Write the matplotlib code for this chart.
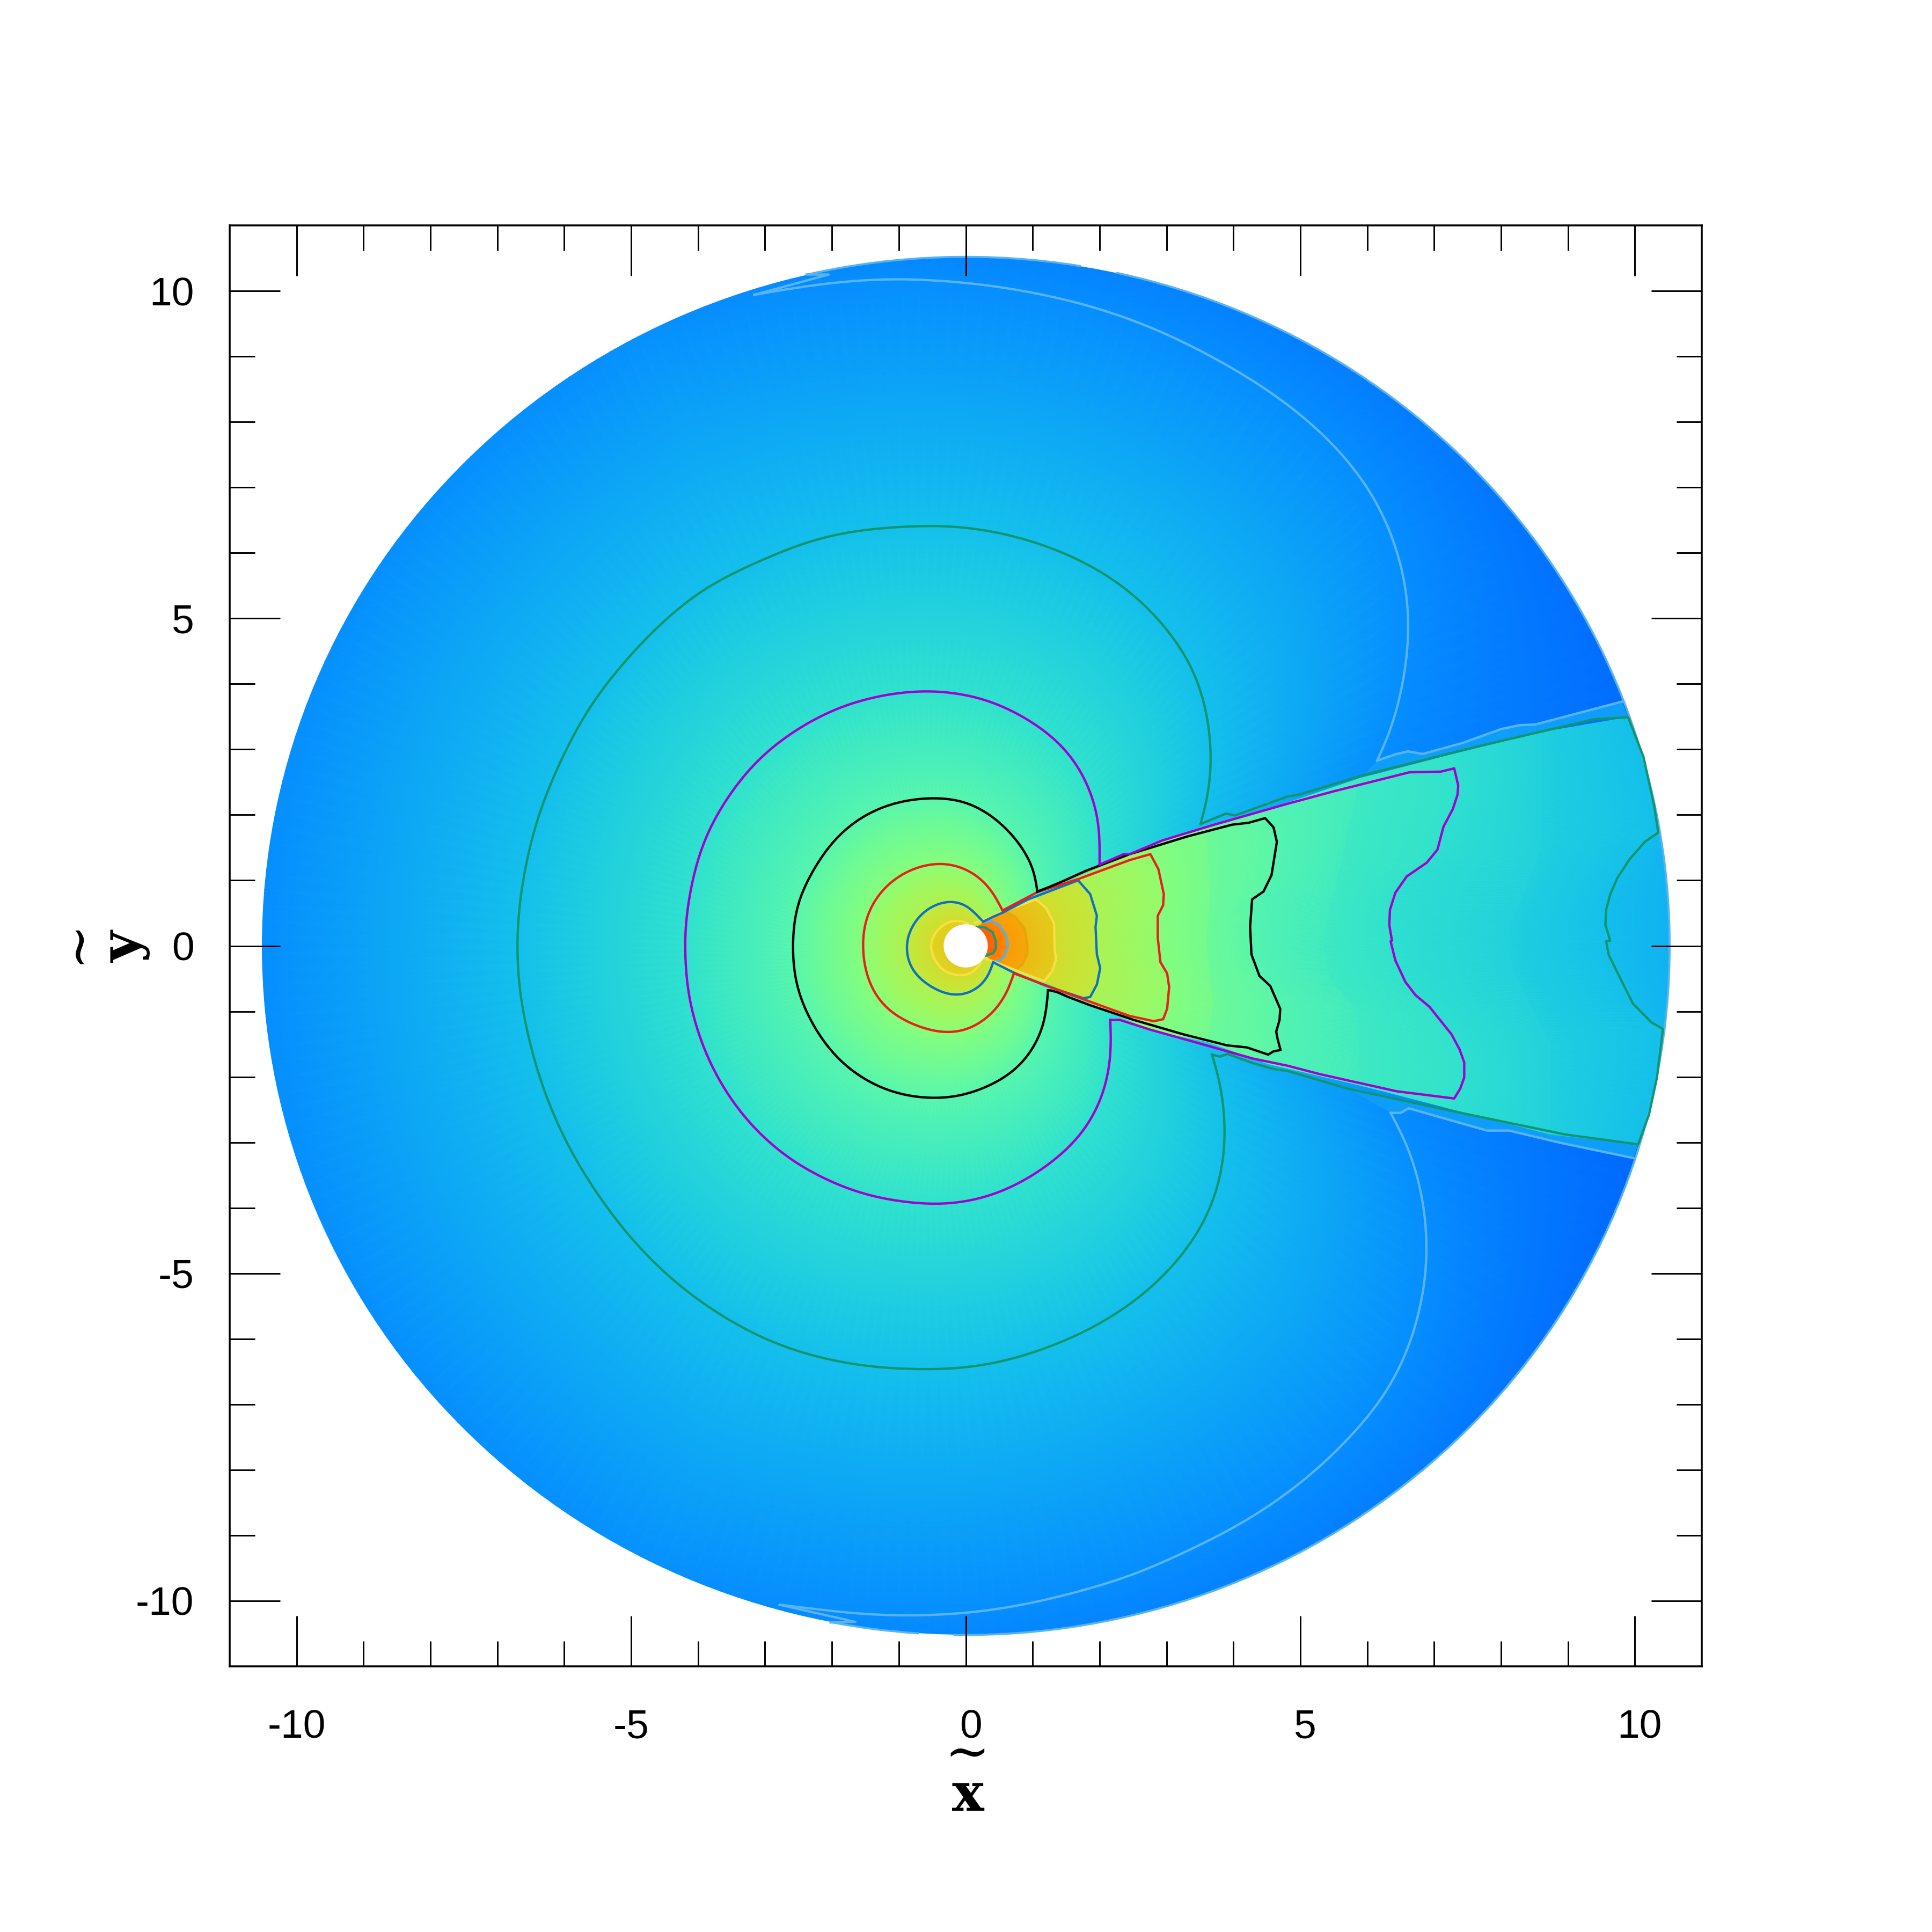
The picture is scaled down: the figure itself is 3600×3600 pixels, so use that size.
import numpy as np
import matplotlib
matplotlib.use("Agg")
import matplotlib.pyplot as plt
from matplotlib.colors import LinearSegmentedColormap
from matplotlib.patches import Circle, Arc
from matplotlib.transforms import ScaledTranslation

# tick labels
x_major = [-10, -5, 0, 5, 10]
x_major_labels = ["-10", "-5", "0", "5", "10"]
minor_ticks = [-9, -8, -7, -6, -4, -3, -2, -1, 1, 2, 3, 4, 6, 7, 8, 9]

rim_radius = 10.52
hole_radius = 0.33

# contours outside the wedge, running from the wedge top edge round the left to the bottom edge
yellow_outer = [(.035, .34), (-.06, .39), (-.19, .39), (-.35, .32), (-.49, .15), (-.53, -.01), (-.49, -.17),
                (-.35, -.37), (-.14, -.45), (.02, -.45), (.155, -.37), (.22, -.26)]
blue_outer = [(.26, .37), (.17, .45), (.04, .63), (-.24, .70), (-.45, .64), (-.67, .50), (-.83, .26), (-.90, .02),
              (-.83, -.34), (-.57, -.60), (-.19, -.77), (.14, -.69), (.35, -.47), (.41, -.25)]
red_outer = [(.55, .54), (.50, .67), (.35, .94), (.04, 1.18), (-.34, 1.29), (-.83, 1.18), (-1.24, .89), (-1.50, .45),
             (-1.55, .02), (-1.49, -.47), (-1.26, -.91), (-.88, -1.17), (-.32, -1.35), (.09, -1.28), (.45, -1.0),
             (.65, -.69), (.72, -.42)]
black_outer = [(1.07, .83), (1.07, 1.08), (.98, 1.30), (.82, 1.55), (.61, 1.81), (.30, 2.06), (0, 2.22), (-.47, 2.27),
               (-1.08, 2.19), (-1.60, 1.95), (-2.00, 1.59), (-2.31, 1.11), (-2.53, .62), (-2.59, .02), (-2.54, -.60),
               (-2.31, -1.17), (-2.02, -1.61), (-1.65, -1.96), (-1.08, -2.25), (-.42, -2.34), (0, -2.28), (.30, -2.17),
               (.70, -1.95), (.95, -1.68), (1.13, -1.35), (1.20, -1.13), (1.23, -.68)]
purple_outer = [(2.0, 1.24), (1.99, 1.30), (2.01, 1.55), (1.995, 1.88), (1.91, 2.25), (1.74, 2.65), (1.50, 3.00),
                (1.16, 3.31), (.76, 3.56), (.40, 3.73), (0, 3.84), (-.57, 3.90), (-1.24, 3.83), (-1.90, 3.64),
                (-2.52, 3.31), (-3.08, 2.87), (-3.54, 2.30), (-3.90, 1.64), (-4.10, .94), (-4.19, .32), (-4.20, .02),
                (-4.15, -.73), (-3.95, -1.48), (-3.64, -2.14), (-3.23, -2.71), (-2.72, -3.19), (-2.11, -3.56),
                (-1.39, -3.83), (-.52, -3.95), (0, -3.91), (.40, -3.81), (.82, -3.62), (1.22, -3.36), (1.56, -3.07),
                (1.805, -2.78), (2.02, -2.37), (2.14, -1.94), (2.18, -1.50), (2.16, -1.13)]
green_outer = [(3.51, 1.86), (3.585, 2.03), (3.66, 2.47), (3.68, 2.90), (3.65, 3.34), (3.55, 3.82), (3.40, 4.26),
               (3.12, 4.70), (2.76, 5.14), (2.30, 5.54), (1.84, 5.83), (1.22, 6.11), (.61, 6.29), (0, 6.40),
               (-.57, 6.42), (-1.60, 6.35), (-2.36, 6.18), (-3.07, 5.88), (-3.85, 5.50), (-4.50, 4.98), (-5.12, 4.32),
               (-5.62, 3.66), (-5.99, 2.97), (-6.36, 2.09), (-6.56, 1.33), (-6.68, .60), (-6.71, .02), (-6.68, -.64),
               (-6.56, -1.30), (-6.35, -2.09), (-5.99, -2.97), (-5.53, -3.76), (-4.97, -4.51), (-4.31, -5.17),
               (-3.59, -5.69), (-2.87, -6.07), (-2.11, -6.31), (-1.34, -6.44), (-.52, -6.47), (0, -6.45), (.61, -6.34),
               (1.22, -6.14), (1.84, -5.87), (2.45, -5.49), (2.91, -5.10), (3.31, -4.64), (3.585, -4.20), (3.77, -3.73),
               (3.87, -3.22), (3.885, -2.70), (3.815, -2.08), (3.745, -1.77), (3.68, -1.66)]
sky_outer_top = [(6.15, 2.83), (6.30, 3.09), (6.46, 3.64), (6.59, 4.28), (6.63, 4.83), (6.60, 5.43), (6.43, 6.12),
                 (6.16, 6.77), (5.76, 7.36), (5.30, 7.86), (4.63, 8.41), (3.77, 8.95), (2.77, 9.45), (1.77, 9.80),
                 (.78, 10.02), (-.02, 10.13), (-1.02, 10.19), (-1.88, 10.14), (-2.55, 10.05), (-3.16, 9.94)]
sky_outer_bot = [(-2.78, -10.06), (-2.21, -10.13), (-1.55, -10.21), (-.88, -10.23), (-.22, -10.21), (.51, -10.13),
                 (1.44, -9.93), (2.51, -9.61), (3.10, -9.34), (4.10, -8.84), (4.97, -8.24), (5.56, -7.70), (6.10, -7.10),
                 (6.50, -6.46), (6.80, -5.56), (6.91, -4.67), (6.83, -3.78), (6.66, -3.18), (6.53, -2.81), (6.35, -2.55)]
# outside the rim, only used to shade the disc
sky_beyond_rim = [(-5, 9.5), (-8, 7.3), (-10, 4.5), (-10.7, 0), (-10, -4.5), (-8, -7.3), (-5, -9.6)]
deep_row = [(10.8, 4.3), (9.5, 7.5), (7, 10.5), (3, 12.3), (-1, 12.6), (-6, 11.5), (-10, 8), (-12.3, 3), (-12.5, 0),
            (-12.3, -3), (-10, -8), (-6, -11.5), (-1, -12.6), (3, -12.3), (7, -10.5), (9.5, -7.5), (10.5, -4)]
inner_row_outer = [(.1, .28), (-.1, .3), (-.3, 0), (-.1, -.3), (.1, -.3), (.2, -.22)]

# wedge edges and fronts
teal_front = [(.17, .29), (.29, .28), (.40, .21), (.45, .07), (.45, -.04), (.41, -.11), (.30, -.15)]
sky_front = [(.28, .36), (.37, .385), (.50, .32), (.61, .15), (.63, -.01), (.58, -.15), (.49, -.24), (.41, -.23)]
orange_front = [(.61, .51), (.74, .44), (.88, .26), (.92, .02), (.92, -.12), (.85, -.28), (.74, -.37)]
yellow_top = [(.14, .35), (.56, .52)]
yellow_front = [(1.05, .71), (1.2, .58), (1.32, .34), (1.33, -.07), (1.35, -.20), (1.29, -.39), (1.17, -.54)]
yellow_bot = [(.74, -.37), (.29, -.19)]
blue_top = [(.26, .37), (.40, .44), (.56, .51), (.93, .71)]
blue_front = [(1.68, 1.0), (1.86, .79), (1.96, .46), (1.94, .29), (1.96, -.13), (2.01, -.34), (1.96, -.59),
              (1.86, -.78), (1.76, -.80)]
blue_bot = [(1.2, -.61), (.72, -.41), (.41, -.25)]
red_top = [(.55, .54), (1.07, .82), (1.68, 1.02), (2.45, 1.31)]
red_front = [(2.76, 1.40), (2.88, 1.17), (2.96, .79), (2.95, .62), (2.87, .46), (2.87, .12), (2.91, -.25),
             (3.01, -.42), (3.04, -.63), (3.01, -.96), (2.95, -1.12), (2.81, -1.15)]
red_bot = [(2.45, -1.07), (2.04, -.92), (1.48, -.71), (.72, -.42)]
black_top = [(1.07, .83), (1.25, .90), (1.48, 1.0), (1.805, 1.15), (2.45, 1.40), (3.31, 1.67), (3.98, 1.85), (4.23, 1.88)]
black_front = [(4.475, 1.95), (4.6, 1.81), (4.65, 1.59), (4.57, 1.08), (4.45, .83), (4.28, .71), (4.25, .29),
               (4.27, -.13), (4.39, -.46), (4.55, -.61), (4.70, -.96), (4.69, -1.13), (4.64, -1.31), (4.66, -1.42),
               (4.705, -1.59), (4.6, -1.61), (4.52, -1.66)]
black_bot = [(4.2, -1.55), (3.91, -1.52), (3.25, -1.35), (2.51, -1.13), (1.84, -.90), (1.53, -.78), (1.375, -.71),
             (1.27, -.68), (1.23, -.68)]
purple_top = [(2.0, 1.24), (2.36, 1.40), (2.45, 1.40), (2.94, 1.61), (3.68, 1.84), (4.81, 2.17), (5.50, 2.36),
              (6.63, 2.65), (7.10, 2.66)]
purple_front = [(7.30, 2.71), (7.36, 2.45), (7.35, 2.31), (7.28, 2.09), (7.14, 1.82), (7.05, 1.47), (6.89, 1.27),
                (6.59, 1.06), (6.42, .81), (6.34, .55), (6.33, .32), (6.37, .08), (6.35, .07), (6.42, -.22),
                (6.57, -.55), (6.72, -.75), (6.93, -.93), (7.26, -1.35), (7.38, -1.58), (7.45, -1.78), (7.45, -2.01),
                (7.39, -2.18), (7.30, -2.33)]
purple_bot = [(6.44, -2.22), (5.30, -1.96), (4.81, -1.83), (4.29, -1.72), (3.46, -1.48), (2.76, -1.28), (2.30, -1.13),
              (2.16, -1.13)]
green_top = [(3.51, 1.86), (3.89, 2.02), (4.02, 1.99), (4.81, 2.28), (4.98, 2.31), (5.95, 2.61), (7.59, 3.03), (9.39, 3.46)]
green_front = [(9.90, 3.49), (10.13, 2.88), (10.29, 2.13), (10.35, 1.73), (10.15, 1.59), (9.92, 1.32), (9.74, 1.04),
               (9.63, .78), (9.57, .55), (9.56, .32), (9.63, .08), (9.57, .07), (9.61, -.14), (9.76, -.45), (9.97, -.88),
               (10.25, -1.17), (10.42, -1.27), (10.33, -2.01), (10.21, -2.58), (10.05, -3.03)]
green_bot = [(8.96, -2.88), (7.26, -2.52), (5.71, -2.18), (4.81, -1.91), (4.60, -1.88), (4.29, -1.79), (3.915, -1.65),
             (3.80, -1.69), (3.68, -1.66)]
sky_top = [(6.15, 2.83), (6.44, 2.93), (6.61, 2.97), (6.83, 2.93), (7.43, 3.10), (8.0, 3.31), (8.28, 3.37), (8.51, 3.38), (9.81, 3.73)]
sky_bot = [(6.35, -2.55), (6.50, -2.55), (6.62, -2.48), (7.79, -2.82), (8.12, -2.82), (8.9, -3.01), (9.98, -3.24)]
sky_tip_top = [(-3.16, 9.94), (-2.05, 10.25), (-2.38, 10.25)]
sky_tip_bot = [(-2.78, -10.06), (-1.65, -10.32), (-2.02, -10.33)]
# shading only, between the fronts and out to the wedge edge
blue_ends = [(1.68, 1.05), (1.76, -.83)]
red_ends = [(2.76, 1.53), (2.81, -1.30)]
black_ends = [(4.475, 2.07), (4.52, -1.80)]
purple_ends = [(7.30, 2.93), (7.30, -2.50)]
shade_red_black = [(3.6, 1.80), (3.65, .8), (3.6, 0), (3.7, -.9), (3.6, -1.46)]
shade_black_purple = [(5.9, 2.56), (5.6, 1.2), (5.45, .6), (5.35, 0), (5.45, -.5), (5.85, -1), (5.9, -2.13)]
shade_purple_green = [(8.6, 3.26), (8.6, 1.5), (8.35, .8), (8.15, .3), (8.1, 0), (8.2, -.4), (8.45, -.9), (8.75, -1.5),
                      (8.75, -2.88)]
inner_row_wedge = [(.1, .3), (.3, .15), (.3, -.15), (.2, -.2)]
last_row_wedge = [(11, 3.6), (11.5, 0), (11, -3.7)]

# rim stroke, degrees
rim_arcs = [(-91, 77.7), (80.6, 103), (-101, -93.8)]

# colour at each level, red centre to deep blue outside
level_colors = ["#FF5A00", "#FF6E00", "#FF9400", "#F4B010", "#DCD824", "#B8F048", "#8AFF78", "#58F6AE",
                "#30E2CE", "#14C0EC", "#068EFF", "#0064FF"]
outer_levels = [3.6, 4, 5, 6, 7, 8, 9, 10, 11]
wedge_levels = [0, 1, 2, 3, 4, 5, 6, 6.5, 7, 7.6, 8, 8.5, 9, 9.5]


def along(pts, n=240):
    # same number of points on each row, spaced by arc length
    p = np.asarray(pts, dtype=float)
    s = np.r_[0, np.cumsum(np.hypot(*np.diff(p, axis=0).T))]
    u = np.linspace(0, s[-1], n)
    return np.c_[np.interp(u, s, p[:, 0]), np.interp(u, s, p[:, 1])]


def smooth(pts, k=10, n=800):
    # catmull-rom through the read points, then a short gaussian to take out the reading noise
    p = np.array(pts, dtype=float)
    gap = np.median(np.hypot(*np.diff(p, axis=0).T))
    p = np.vstack([2 * p[0] - p[1], p, 2 * p[-1] - p[-2]])
    out = []
    for i in range(1, len(p) - 2):
        for t in np.linspace(0, 1, k, endpoint=False):
            out.append(0.5 * (2 * p[i] + (p[i + 1] - p[i - 1]) * t
                              + (2 * p[i - 1] - 5 * p[i] + 4 * p[i + 1] - p[i + 2]) * t ** 2
                              + (3 * p[i] - p[i - 1] - 3 * p[i + 1] + p[i + 2]) * t ** 3))
    out.append(p[-2])
    c = along(out, n)
    step = np.hypot(*(c[1] - c[0]))
    sig = 0.6 * gap / step
    half = int(4 * sig)
    w = np.exp(-0.5 * (np.arange(-half, half + 1) / sig) ** 2)
    w /= w.sum()
    # odd reflection keeps the end points where they were read
    pad = np.vstack([2 * c[0] - c[half:0:-1], c, 2 * c[-1] - c[-2:-half - 2:-1]])
    return np.c_[np.convolve(pad[:, 0], w, "valid"), np.convolve(pad[:, 1], w, "valid")]


def under_wedge(pts):
    # push both row ends under the wedge so no gap is left beside it
    p = np.asarray(pts, dtype=float)
    return np.vstack([p[0] * [1, .7], p, p[-1] * [1, .7]])


def draw_mesh(rows, levels, clip):
    grid = np.stack([along(r) for r in rows])
    c = np.repeat(np.array(levels)[:, None], grid.shape[1], axis=1)
    m = ax.pcolormesh(grid[..., 0], grid[..., 1], c, shading="gouraud", cmap=field_cmap,
                      vmin=0, vmax=len(level_colors) - 1)
    m.set_clip_path(clip)
    return m


fig = plt.figure(figsize=(12, 12), dpi=300)
ax = fig.add_axes([428 / 3600, 495 / 3600, 2743 / 3600, 2685 / 3600])
plt.rcParams["font.family"] = ["Liberation Sans", "DejaVu Sans"]
plt.rcParams["mathtext.fontset"] = "dejavuserif"
field_cmap = LinearSegmentedColormap.from_list("field", level_colors, N=1024)

ax.set_xlim(-11, 11)
ax.set_ylim(-11, 11)

rim = Circle((0, 0), rim_radius, transform=ax.transData)

outer_rows = [inner_row_outer, smooth(yellow_outer), smooth(blue_outer), smooth(red_outer), smooth(black_outer),
              smooth(purple_outer), smooth(green_outer),
              np.vstack([smooth(sky_outer_top), smooth(sky_beyond_rim), smooth(sky_outer_bot)]), smooth(deep_row)]
draw_mesh([under_wedge(r) for r in outer_rows], outer_levels, rim)

# lighter bands between the sky blue and green lines along the wedge
for a, b in [(sky_top, green_top[5:] + green_front[:1]), (sky_bot, green_bot[:3][::-1] + green_front[-1:])]:
    poly = np.array(a + b[::-1])
    band = ax.fill(poly[:, 0], poly[:, 1], color="#0E9EFA", lw=0)[0]
    band.set_clip_path(rim)

wedge_rows = [inner_row_wedge, teal_front, sky_front, orange_front, yellow_front,
              blue_ends[:1] + blue_front + blue_ends[1:],
              red_ends[:1] + red_front + red_ends[1:],
              shade_red_black,
              black_ends[:1] + black_front + black_ends[1:],
              shade_black_purple,
              purple_ends[:1] + purple_front + purple_ends[1:],
              shade_purple_green, green_front, last_row_wedge]
draw_mesh(wedge_rows, wedge_levels, rim)

# contour lines
lines = [
    (teal_front, "#1A9A78"),
    (sky_front, "#5AB0E6"),
    (orange_front, "#E8A408"),
    (yellow_top + yellow_front + yellow_bot, "#F8E040"),
    (blue_top + blue_front + blue_bot, "#1070C0"),
    (red_top + red_front + red_bot, "#E8201A"),
    (black_top + black_front + black_bot, "#000000"),
    (purple_top + purple_front + purple_bot, "#A000D0"),
    (green_top + green_front + green_bot, "#10966E"),
]
for pts, col in lines:
    p = np.array(pts)
    ax.plot(p[:, 0], p[:, 1], color=col, lw=1.05, solid_joinstyle="round")
smooth_lines = [
    (yellow_outer, "#F8E040"),
    (blue_outer, "#1070C0"),
    (red_outer, "#E8201A"),
    (black_outer, "#000000"),
    (purple_outer, "#A000D0"),
    (green_outer, "#10966E"),
    (sky_outer_top, "#58B4EE"),
    (sky_outer_bot, "#58B4EE"),
]
for pts, col in smooth_lines:
    p = smooth(pts)
    ax.plot(p[:, 0], p[:, 1], color=col, lw=1.05, solid_joinstyle="round")
for pts in [sky_top, sky_bot, sky_tip_top, sky_tip_bot]:
    p = np.array(pts)
    ax.plot(p[:, 0], p[:, 1], color="#58B4EE", lw=1.05)
for t1, t2 in rim_arcs:
    ax.add_patch(Arc((0, 0), 2 * rim_radius, 2 * rim_radius, theta1=t1, theta2=t2, color="#58B4EE", lw=.9))

ax.add_patch(Circle((0, 0), hole_radius, fc="white", ec="none", zorder=5))

# axes and ticks
for s in ax.spines.values():
    s.set_linewidth(.85)
ax.set_xticks(x_major)
ax.set_yticks(x_major)
ax.set_xticks(minor_ticks, minor=True)
ax.set_yticks(minor_ticks, minor=True)
ax.set_xticklabels(x_major_labels, fontsize=18, family=["Liberation Sans"])
ax.set_yticklabels(x_major_labels, fontsize=18, family=["Liberation Sans"])
ax.tick_params(which="major", direction="in", top=True, right=True, length=22.6, width=.7, zorder=6)
ax.tick_params(which="minor", direction="in", top=True, right=True, length=11.3, width=.7, zorder=6)
ax.tick_params(axis="x", which="major", pad=19)
ax.tick_params(axis="y", which="major", pad=16)
shift = ScaledTranslation(9 / 300, 0, fig.dpi_scale_trans)
for lab, name in zip(ax.get_xticklabels(), x_major_labels):
    if not name.startswith("-"):
        lab.set_transform(lab.get_transform() + shift)

# axis letters, tilde stacked over the letter
fig.text(1789 / 3600, 1 - 3315 / 3600, r"$\genfrac{}{}{0}{0}{\sim}{\mathbf{x}}$", fontsize=24, ha="center", va="center")
fig.text(210 / 3600, 1 - 1778 / 3600, r"$\genfrac{}{}{0}{0}{\sim}{\mathbf{y}}$", fontsize=24, rotation=90,
         ha="center", va="center")

fig.savefig("out.png", dpi=300)
